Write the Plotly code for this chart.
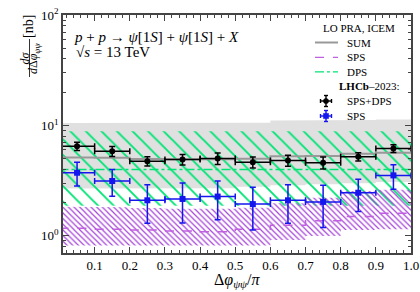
import plotly.graph_objects as go

# ---- data ----
bin_edges = [0.0, 0.1, 0.2, 0.3, 0.4, 0.5, 0.6, 0.7, 0.8, 0.9, 1.0]
bin_centers = [0.05, 0.15, 0.25, 0.35, 0.45, 0.55, 0.65, 0.75, 0.85, 0.95]

# theory (LO PRA, ICEM)
sum_central = [5.12, 5.10, 4.97, 4.95, 4.95, 5.00, 5.25, 5.30, 5.55, 5.65]
sum_upper = [10.5, 10.5, 10.5, 10.5, 10.5, 10.6, 11.1, 11.1, 11.2, 11.3]
sum_lower = [2.68, 2.68, 2.68, 2.68, 2.70, 2.79, 2.87, 2.93, 2.99, 3.07]

sps_central = [1.17, 1.15, 1.13, 1.11, 1.09, 1.15, 1.25, 1.37, 1.50, 1.60]
sps_upper = [1.84, 1.82, 1.79, 1.76, 1.76, 1.80, 1.97, 2.22, 2.55, 2.62]
sps_lower = [0.82, 0.82, 0.81, 0.81, 0.81, 0.82, 0.92, 1.00, 1.13, 1.15]

dps_central = [4.0, 4.0, 4.0, 4.0, 4.0, 4.0, 4.0, 4.0, 4.0, 4.0]
dps_upper = [8.87, 8.87, 8.87, 8.87, 8.87, 8.87, 8.87, 8.87, 8.87, 8.87]
dps_lower = [1.87, 1.87, 1.87, 1.87, 1.87, 1.87, 1.87, 1.87, 1.87, 1.87]

# LHCb-2023 data
lhcb_all = [6.49, 5.85, 4.75, 4.92, 5.03, 4.65, 4.82, 4.60, 5.21, 6.19]
lhcb_all_err = [0.57, 0.61, 0.46, 0.53, 0.61, 0.53, 0.55, 0.57, 0.45, 0.50]
lhcb_sps = [3.73, 3.14, 2.10, 2.16, 2.27, 1.94, 2.10, 2.03, 2.46, 3.53]
lhcb_sps_err = [0.90, 0.86, 0.80, 0.85, 0.87, 0.81, 0.80, 0.84, 0.80, 0.88]

x_ticks = [0.1, 0.2, 0.3, 0.4, 0.5, 0.6, 0.7, 0.8, 0.9, 1.0]
x_tick_labels = ["0.1", "0.2", "0.3", "0.4", "0.5", "0.6", "0.7", "0.8", "0.9", "1.0"]
y_ticks = [1, 10, 100]
y_tick_labels = ["10<sup>0</sup>", "10<sup>1</sup>", "10<sup>2</sup>"]

FONT = "Liberation Serif"
C_SUM = "#999999"
C_SPS = "#a544d8"
C_SPS_LINE = "#c060e0"
C_DPS = "#00e474"
C_BLUE = "#1515ee"

# layout geometry (pixels)
W, H = 420, 292
ML, MR, MT, MB = 63, 9, 15, 39
PW, PH = W - ML - MR, H - MT - MB


def px(x):
    return (x - ML) / PW


def py(y):
    return (H - MB - y) / PH


def band_polygon(edges, upper, lower):
    xs, ys = [], []
    for i in range(len(upper)):
        xs += [edges[i], edges[i + 1]]
        ys += [upper[i], upper[i]]
    for i in reversed(range(len(lower))):
        xs += [edges[i + 1], edges[i]]
        ys += [lower[i], lower[i]]
    xs.append(xs[0])
    ys.append(ys[0])
    return xs, ys


def step_line(edges, vals):
    return list(edges), list(vals) + [vals[-1]]


fig = go.Figure()

# SUM band (gray)
bx, by = band_polygon(bin_edges, sum_upper, sum_lower)
fig.add_trace(go.Scatter(x=bx, y=by, mode="lines", fill="toself",
                         fillcolor="rgb(224,224,224)", line=dict(width=0),
                         hoverinfo="skip", showlegend=False))
# DPS band (green hatch)
bx, by = band_polygon(bin_edges, dps_upper, dps_lower)
fig.add_trace(go.Scatter(x=bx, y=by, mode="lines", fill="toself",
                         fillcolor="rgba(0,0,0,0)", line=dict(width=0),
                         fillpattern=dict(shape="\\", fgcolor=C_DPS, fgopacity=1,
                                          bgcolor="rgba(0,0,0,0)", size=11,
                                          solidity=0.17, fillmode="overlay"),
                         hoverinfo="skip", showlegend=False))
# SPS band (purple hatch)
bx, by = band_polygon(bin_edges, sps_upper, sps_lower)
fig.add_trace(go.Scatter(x=bx, y=by, mode="lines", fill="toself",
                         fillcolor="rgba(0,0,0,0)", line=dict(width=0),
                         fillpattern=dict(shape="\\", fgcolor=C_SPS, fgopacity=1,
                                          bgcolor="rgba(0,0,0,0)", size=4,
                                          solidity=0.3, fillmode="overlay"),
                         hoverinfo="skip", showlegend=False))

# central lines
lx, ly = step_line(bin_edges, sum_central)
fig.add_trace(go.Scatter(x=lx, y=ly, mode="lines", line_shape="hv",
                         line=dict(color=C_SUM, width=2), name="SUM", showlegend=False))
lx, ly = step_line(bin_edges, sps_central)
fig.add_trace(go.Scatter(x=lx, y=ly, mode="lines", line_shape="hv",
                         line=dict(color=C_SPS_LINE, width=1.5, dash="dash"), name="SPS",
                         showlegend=False))
lx, ly = step_line(bin_edges, dps_central)
fig.add_trace(go.Scatter(x=lx, y=ly, mode="lines", line_shape="hv",
                         line=dict(color=C_DPS, width=1.5, dash="dashdot"), name="DPS",
                         showlegend=False))

# data
fig.add_trace(go.Scatter(x=bin_centers, y=lhcb_all, mode="markers",
                         marker=dict(symbol="circle", size=6, color="black"),
                         error_x=dict(type="constant", value=0.05, color="black",
                                      thickness=1.5, width=3),
                         error_y=dict(type="data", array=lhcb_all_err, color="black",
                                      thickness=1.5, width=3),
                         name="SPS+DPS", showlegend=False))
fig.add_trace(go.Scatter(x=bin_centers, y=lhcb_sps, mode="markers",
                         marker=dict(symbol="square", size=6, color=C_BLUE),
                         error_x=dict(type="constant", value=0.05, color=C_BLUE,
                                      thickness=1.5, width=3),
                         error_y=dict(type="data", array=lhcb_sps_err, color=C_BLUE,
                                      thickness=1.5, width=3),
                         name="SPS", showlegend=False))


# ---- texts ----
def ann(x, y, text, size=11, xanchor="left", angle=0, yanchor="middle"):
    fig.add_annotation(x=px(x), y=py(y), xref="paper", yref="paper",
                       xanchor=xanchor, yanchor=yanchor, showarrow=False,
                       text=text, textangle=angle,
                       font=dict(family=FONT, size=size, color="black"))


ann(72, 37, "<i>p</i> + <i>p</i> → <i>ψ</i>[1<i>S</i>] + <i>ψ</i>[1<i>S</i>] + <i>X</i>", size=15)
ann(74, 52, "√<i>s</i> = 13 TeV", size=15)

# axis titles
ann(237, 280, "Δ<i>φ</i><sub><i>ψψ</i></sub>/<i>π</i>", size=16, xanchor="center")
ann(28, 27, "[nb]", size=14, xanchor="center", angle=-90)
ann(24.5, 58, "<i>dσ</i>", size=12, xanchor="center", angle=-90)
ann(34, 58, "<i>d</i>Δ<i>φ</i><sub><i>ψψ</i></sub>", size=12, xanchor="center", angle=-90)
fig.add_shape(type="line", xref="paper", yref="paper", x0=px(29.5), x1=px(29.5),
              y0=py(39), y1=py(77), line=dict(color="black", width=0.8))

# ---- manual legend ----
ann(359, 28, "LO PRA, ICEM", size=11, xanchor="center")
leg_lines = [("SUM", C_SUM, "solid", 2, 42.5),
             ("SPS", C_SPS_LINE, "dash", 1.3, 57.3),
             ("DPS", C_DPS, "dashdot", 1.3, 71.8)]
for label, col, dash, wdt, yy in leg_lines:
    fig.add_shape(type="line", xref="paper", yref="paper", x0=px(315), x1=px(338),
                  y0=py(yy), y1=py(yy), line=dict(color=col, width=wdt, dash=dash))
    ann(345, yy, label)
ann(402, 86, "<b>LHCb</b>–2023:", xanchor="right")


def legend_point(cx, cy, col, symbol, label):
    lines = [(cx - 5.5, cy, cx + 5.5, cy), (cx, cy - 5.5, cx, cy + 5.5),
             (cx - 2, cy - 5.5, cx + 2, cy - 5.5), (cx - 2, cy + 5.5, cx + 2, cy + 5.5),
             (cx - 5.5, cy - 2, cx - 5.5, cy + 2), (cx + 5.5, cy - 2, cx + 5.5, cy + 2)]
    for x0, y0, x1, y1 in lines:
        fig.add_shape(type="line", xref="paper", yref="paper", x0=px(x0), x1=px(x1),
                      y0=py(y0), y1=py(y1), line=dict(color=col, width=1.4))
    fig.add_shape(type=symbol, xref="paper", yref="paper", x0=px(cx - 2.6), x1=px(cx + 2.6),
                  y0=py(cy - 2.6), y1=py(cy + 2.6), fillcolor=col, line=dict(color=col, width=0.5))
    ann(345, cy, label)


legend_point(326, 101, "black", "circle", "SPS+DPS")
legend_point(326, 116, C_BLUE, "rect", "SPS")

axis_common = dict(showline=True, linecolor="#444444", linewidth=1.5, mirror="allticks",
                   ticks="inside", tickcolor="#444444", showgrid=False, zeroline=False,
                   automargin=False, ticklabeloverflow="allow",
                   tickfont=dict(family=FONT, size=13, color="black"))

fig.update_xaxes(range=[0.01, 1.0], tickvals=x_ticks, ticktext=x_tick_labels,
                 ticklen=6, tickwidth=1.2,
                 minor=dict(dtick=0.02, ticks="inside", ticklen=3, tickcolor="#444444", showgrid=False),
                 **axis_common)
fig.update_yaxes(type="log", range=[-0.155, 2.0], tickvals=y_ticks, ticktext=y_tick_labels,
                 ticklen=6, tickwidth=1.2,
                 minor=dict(dtick="D1", ticks="inside", ticklen=3, tickcolor="#444444", showgrid=False),
                 **axis_common)

fig.update_layout(width=W, height=H,
                  margin=dict(l=ML, r=MR, t=MT, b=MB, autoexpand=False),
                  paper_bgcolor="white", plot_bgcolor="white",
                  showlegend=False, font=dict(family=FONT))

fig.write_html("out.html", config={"displayModeBar": False},
               post_script="document.body.style.margin='0px';document.body.style.overflow='hidden';")
